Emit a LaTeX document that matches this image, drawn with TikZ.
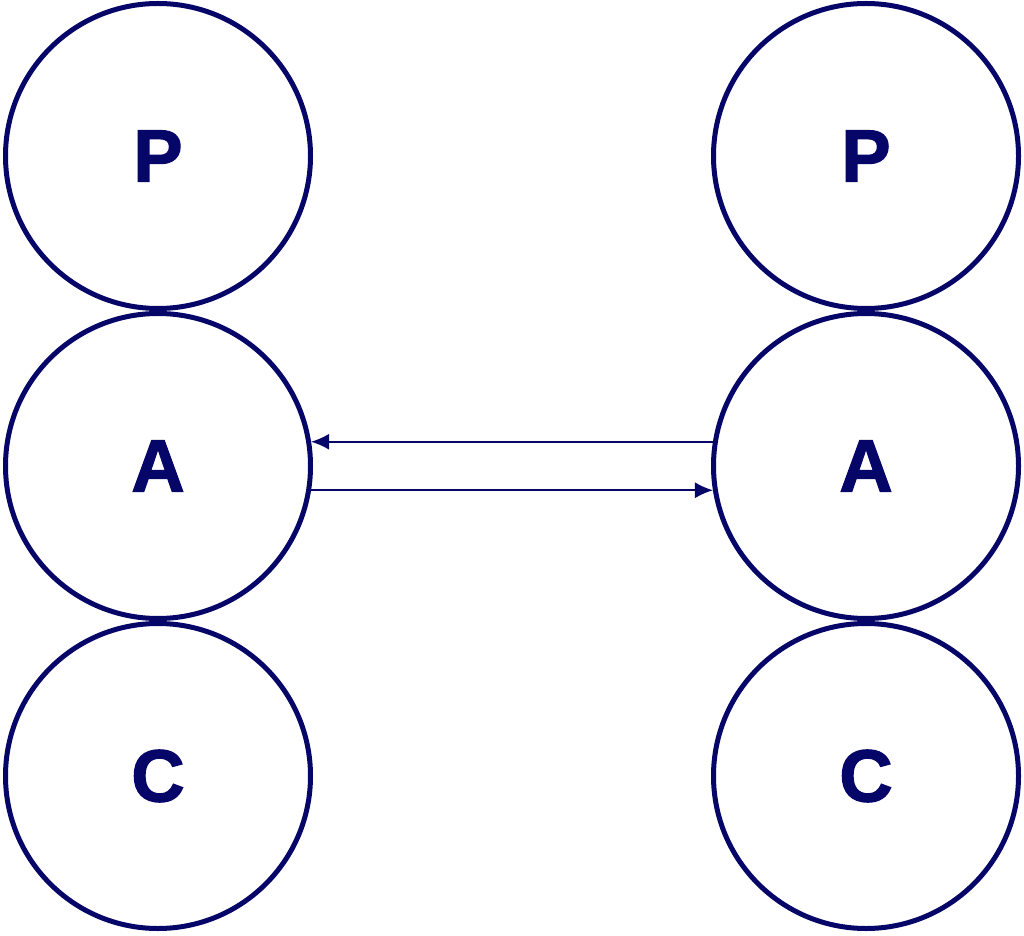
\documentclass[tikz,border=0pt]{standalone}
\usepackage{fontspec}
\setmainfont{Liberation Sans}
\newfontfamily\heavy[FakeBold=1.6]{Liberation Sans Bold}
\usetikzlibrary{arrows.meta}
\definecolor{navy}{RGB}{6,6,104}
\begin{document}
\begin{tikzpicture}[x=1pt,y=1pt,
  ring/.style={circle,draw=navy,line width=5pt,minimum size=305pt,inner sep=0pt,
    text=navy,font=\fontsize{74}{74}\heavy},
  link/.style={draw=navy,line width=1.6pt,arrows={-Latex[length=18pt,width=16pt]}}]
\useasboundingbox (0,0) rectangle (1024,935);
\node[ring] (lP) at (158,779) {P};
\node[ring] (lA) at (158,469) {A};
\node[ring] (lC) at (158,159) {C};
\node[ring] (rP) at (866,779) {P};
\node[ring] (rA) at (866,469) {A};
\node[ring] (rC) at (866,159) {C};
\draw[link] (rA.171) -- (lA.9);
\draw[link] (lA.-9.3) -- (rA.189.3);
\end{tikzpicture}
\end{document}
